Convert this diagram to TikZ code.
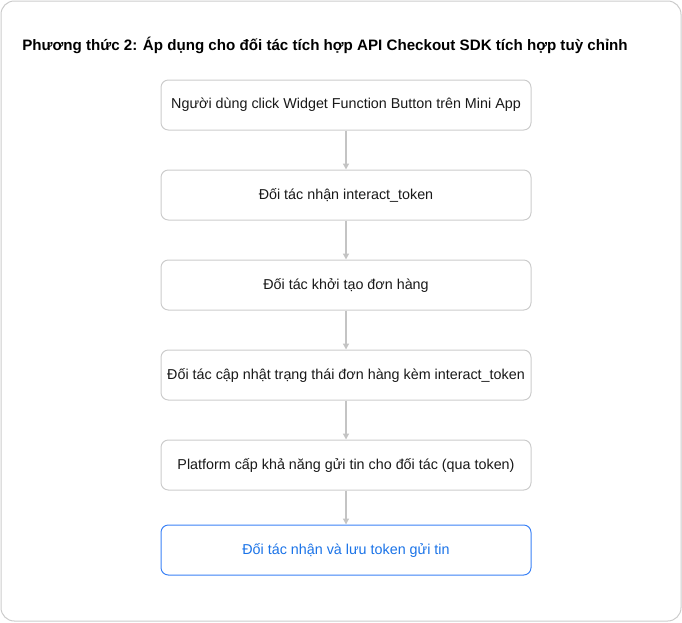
\documentclass[tikz,border=0pt]{standalone}
\usepackage{fontspec}
\setmainfont{Liberation Sans}
\usetikzlibrary{arrows.meta}
\definecolor{frameGray}{HTML}{CCCCCC}
\definecolor{boxGray}{HTML}{CCCCCC}
\definecolor{arrowGray}{HTML}{C4C4C4}
\definecolor{blueLine}{HTML}{3B82F6}
\definecolor{blueText}{HTML}{1A73E8}
\begin{document}
\begin{tikzpicture}[x=0.75pt,y=-0.75pt,
  stepbox/.style={draw=boxGray, line width=0.75pt, rounded corners=5.5pt, fill=white,
    minimum width=277.5pt, minimum height=37.5pt, inner sep=0pt, font=\fontsize{10.75}{13}\selectfont, text=black!90},
  lastbox/.style={stepbox, draw=blueLine, text=blueText},
  flow/.style={draw=arrowGray, line width=1pt, -{Triangle[width=4.5pt,length=4.5pt]}}]
\useasboundingbox (0,0) rectangle (682,622);
\draw[frameGray, line width=0.75pt, rounded corners=10pt] (1,1) rectangle (681,621);
\node[anchor=base west, font=\bfseries\fontsize{11.35}{13}\selectfont, inner sep=0pt] (title) at (22,50.5)
  {Phương thức 2: Áp dụng cho đối tác tích hợp API Checkout SDK tích hợp tuỳ chỉnh};
\node[stepbox] (s1) at (346,105) {Người dùng click Widget Function Button trên Mini App};
\node[stepbox] (s2) at (346,195) {Đối tác nhận interact\_token};
\node[stepbox] (s3) at (346,285) {Đối tác khởi tạo đơn hàng};
\node[stepbox] (s4) at (346,375) {Đối tác cập nhật trạng thái đơn hàng kèm interact\_token};
\node[stepbox] (s5) at (346,465) {Platform cấp khả năng gửi tin cho đối tác (qua token)};
\node[lastbox] (s6) at (346,550) {Đối tác nhận và lưu token gửi tin};
\draw[flow] (s1) -- (s2);
\draw[flow] (s2) -- (s3);
\draw[flow] (s3) -- (s4);
\draw[flow] (s4) -- (s5);
\draw[flow] (s5) -- (s6);
\end{tikzpicture}
\end{document}
